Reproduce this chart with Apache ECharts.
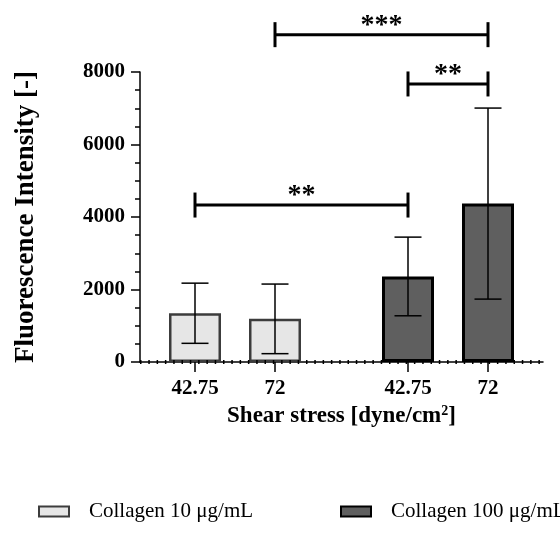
<!DOCTYPE html>
<html>
<head>
<meta charset="utf-8">
<script src="https://cdn.jsdelivr.net/npm/echarts@6/dist/echarts.min.js"></script>
<style>html,body{margin:0;padding:0;background:#fff}#c{width:560px;height:539px}</style>
</head>
<body>
<div id="c"></div>
<script>
// ---- data ----
const categories = ['42.75', '72', '42.75', '72'];
const seriesNames = ['Collagen 10 μg/mL', 'Collagen 100 μg/mL'];
const c10Mean = [1345, 1190];
const c10Sd = [830, 960];
const c100Mean = [2360, 4370];
const c100Sd = [1085, 2635];
const yTicks = [0, 2000, 4000, 6000, 8000];
// significance: [fromBar, toBar, height, label]
const sigFrom = [0, 1, 2];
const sigTo = [2, 3, 3];
const sigHeight = [4330, 9030, 7670];
const sigLabel = ['**', '***', '**'];

// ---- layout (category slots on a value axis; second group shifted) ----
const GROUP_SHIFT = 0.6625;
const slotX = categories.map((c, i) => i + (i >= 2 ? GROUP_SHIFT : 0));
const FONT = '"Liberation Serif", "Times New Roman", serif';
const legendLeft = [38, 340];

const means = c10Mean.concat(c100Mean);
const sds = c10Sd.concat(c100Sd);

const chart = echarts.init(document.getElementById('c'));

const errData = means.map((m, i) => [slotX[i], m - sds[i], m + sds[i]]);
const sigData = sigFrom.map((f, i) => [slotX[f], slotX[sigTo[i]], sigHeight[i], i]);

chart.setOption({
  animation: false,
  backgroundColor: '#fff',
  grid: { left: 140, top: 72, width: 403, height: 290, containLabel: false },
  legend: seriesNames.map((n, i) => ({
    data: [n],
    left: legendLeft[i], top: 501, width: 600, padding: 0,
    itemWidth: 30, itemHeight: 10,
    icon: 'rect', selectedMode: false,
    textStyle: { fontFamily: FONT, fontSize: 21, color: '#000', padding: [0, 0, 0, 15] }
  })),
  xAxis: {
    type: 'value', min: -0.6875, max: 4.35,
    name: 'Shear stress [dyne/cm{sup|2}]',
    nameLocation: 'middle', nameGap: 40,
    nameTextStyle: {
      fontFamily: FONT, fontSize: 23, fontWeight: 'bold', color: '#000',
      rich: { sup: { fontFamily: FONT, fontSize: 14, fontWeight: 'bold', color: '#000', verticalAlign: 'top', padding: [0, 0, 10, 0] } }
    },
    splitLine: { show: false },
    axisLine: { show: true, onZero: false, lineStyle: { color: '#000', width: 1.5 } },
    axisTick: { show: true, customValues: slotX, length: 10, lineStyle: { color: '#000', width: 1.5 } },
    axisLabel: {
      customValues: slotX,
      formatter: v => { const i = slotX.findIndex(s => Math.abs(s - v) < 1e-6); return i >= 0 ? categories[i] : ''; },
      fontFamily: FONT, fontSize: 21, fontWeight: 'bold', color: '#000', margin: 16
    }
  },
  yAxis: {
    type: 'value', min: yTicks[0], max: yTicks[yTicks.length - 1], interval: yTicks[1] - yTicks[0],
    name: 'Fluorescence Intensity [-]',
    nameLocation: 'middle', nameGap: 100,
    nameTextStyle: { fontFamily: FONT, fontSize: 27, fontWeight: 'bold', color: '#000' },
    splitLine: { show: false },
    axisLine: { show: true, onZero: false, lineStyle: { color: '#000', width: 1.5 } },
    axisTick: { show: true, length: 9, lineStyle: { color: '#000', width: 1.5 } },
    minorTick: { show: true, splitNumber: 4, length: 5, lineStyle: { color: '#000', width: 1.5 } },
    axisLabel: { formatter: v => String(v), fontFamily: FONT, fontSize: 21, fontWeight: 'bold', color: '#000', margin: 15 }
  },
  series: [
    {
      name: seriesNames[0], type: 'bar', barWidth: 52, barGap: '-100%',
      data: c10Mean.map((m, i) => [slotX[i], m]),
      itemStyle: { color: '#e6e6e6', borderColor: '#3c3c3c', borderWidth: 2.5 },
      markLine: {
        silent: true, symbol: 'none', label: { show: false },
        lineStyle: { color: '#000', width: 4, type: [1.5, 6.8], opacity: 1 },
        data: [{ yAxis: 0 }]
      },
      z: 2
    },
    {
      name: seriesNames[1], type: 'bar', barWidth: 52, barGap: '-100%',
      data: c100Mean.map((m, i) => [slotX[i + 2], m]),
      itemStyle: { color: '#5f5f5f', borderColor: '#000', borderWidth: 3 },
      z: 2
    },
    {
      type: 'custom', z: 5, silent: true,
      data: errData,
      encode: { x: 0, y: [1, 2] },
      renderItem: (params, api) => {
        const x = api.value(0);
        const lo = api.coord([x, api.value(1)]);
        const hi = api.coord([x, api.value(2)]);
        const w = 13.5;
        const st = { stroke: '#000', lineWidth: 1.5 };
        return { type: 'group', children: [
          { type: 'line', shape: { x1: lo[0], y1: lo[1], x2: hi[0], y2: hi[1] }, style: st },
          { type: 'line', shape: { x1: lo[0] - w, y1: lo[1], x2: lo[0] + w, y2: lo[1] }, style: st },
          { type: 'line', shape: { x1: hi[0] - w, y1: hi[1], x2: hi[0] + w, y2: hi[1] }, style: st }
        ]};
      }
    },
    {
      type: 'custom', z: 6, silent: true, clip: false,
      data: sigData,
      encode: { x: [0, 1], y: 2 },
      renderItem: (params, api) => {
        const a = api.coord([api.value(0), api.value(2)]);
        const b = api.coord([api.value(1), api.value(2)]);
        const idx = api.value(3);
        const h = 12.5;
        const st = { stroke: '#000', lineWidth: 3 };
        return { type: 'group', children: [
          { type: 'line', shape: { x1: a[0], y1: a[1], x2: b[0], y2: b[1] }, style: st },
          { type: 'line', shape: { x1: a[0], y1: a[1] - h, x2: a[0], y2: a[1] + h }, style: st },
          { type: 'line', shape: { x1: b[0], y1: b[1] - h, x2: b[0], y2: b[1] + h }, style: st },
          { type: 'text', style: { text: sigLabel[idx], x: (a[0] + b[0]) / 2, y: a[1] + 5,
              align: 'center', verticalAlign: 'bottom', fill: '#000',
              font: 'bold 28px ' + FONT } }
        ]};
      }
    }
  ]
});
</script>
</body>
</html>
